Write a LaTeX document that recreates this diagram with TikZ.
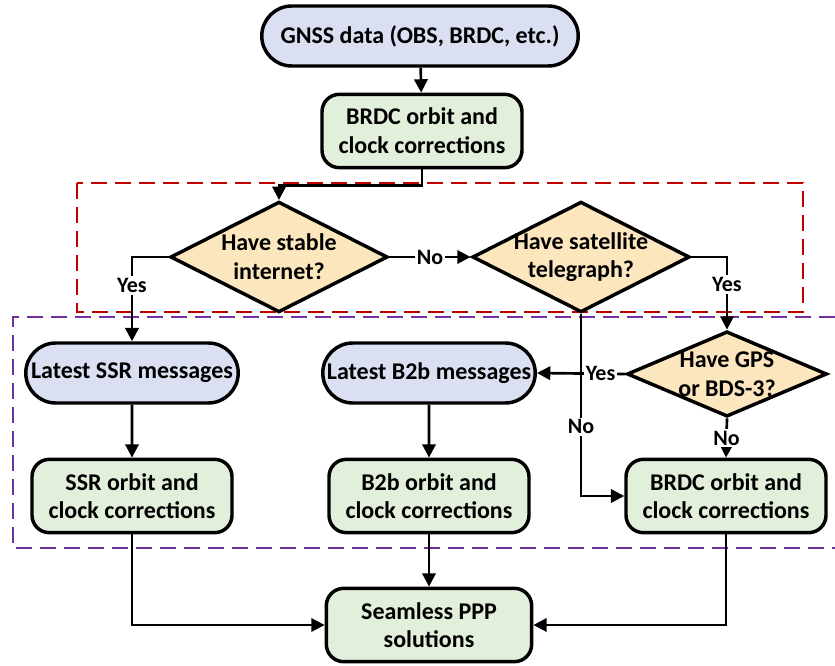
\documentclass[tikz,border=0pt]{standalone}
\usepackage{fontspec}
\setmainfont{Carlito}
\usepackage{xcolor}
\definecolor{PPPmsg}{HTML}{DAE0F2}
\definecolor{PPPcorr}{HTML}{E2EFDA}
\definecolor{PPPask}{HTML}{FCE6BE}
\definecolor{PPPred}{HTML}{C00000}
\definecolor{PPPpurple}{HTML}{7030A0}
\usepackage{tikz}
\usetikzlibrary{arrows.meta, shapes.geometric, shapes.misc, positioning}

\begin{document}
\begin{tikzpicture}[
  x=0.75pt, y=-0.75pt,
  font=\fontsize{18}{21.5}\selectfont\bfseries,
  msgnode/.style={
    rounded rectangle, draw=black, fill=PPPmsg,
    minimum height=45pt, line width=2.6pt
  },
  corrnode/.style={
    rectangle, rounded corners=13pt, draw=black, fill=PPPcorr,
    align=center, minimum width=150pt, minimum height=55pt,
    line width=2.6pt
  },
  decision/.style={
    diamond, aspect=2, draw=black, fill=PPPask, align=center,
    inner sep=-8pt, minimum width=163pt, minimum height=83pt,
    line width=2.6pt
  },
  flow/.style={-{Triangle[length=10pt,width=10pt]}, line width=2pt},
  yn/.style={fill=white, inner sep=1.5pt, font=\fontsize{16.5}{19}\selectfont\bfseries},
  zone/.style={dash pattern=on 12pt off 6pt, line width=1.6pt}
]
\useasboundingbox (0,0) rectangle (835,666);

% ── Dashed zones (drawn first, behind everything) ─────────────
\draw[zone, PPPred] (77,183) rectangle (803,312);
\draw[zone, PPPpurple] (835,317) -- (13,317) -- (13,548) -- (835,548);

% ── Input and broadcast products ──────────────────────────────
\node[msgnode, minimum width=244pt] (gnss) at (420,36) {GNSS data (OBS, BRDC, etc.)};
\node[corrnode] (brdc) at (422,131) {BRDC orbit and\\clock corrections};

% ── Decisions ─────────────────────────────────────────────────
\node[decision] (qnet) at (279,257) {Have stable\\internet?};
\node[decision] (qsat) at (581,257) {Have satellite\\telegraph?};
\node[decision, minimum width=150pt, minimum height=64pt] (qgps) at (727,374) {Have GPS\\or BDS-3?};

% ── Correction messages ───────────────────────────────────────
\node[msgnode, minimum width=166pt] (ssrmsg) at (132,373) {Latest SSR messages};
\node[msgnode, minimum width=166pt] (bbmsg)  at (429,373) {Latest B2b messages};

% ── Orbit and clock corrections ───────────────────────────────
\node[corrnode] (ssrorb)  at (132,496) {SSR orbit and\\clock corrections};
\node[corrnode] (bborb)   at (429,496) {B2b orbit and\\clock corrections};
\node[corrnode] (brdcorb) at (726,496) {BRDC orbit and\\clock corrections};

% ── Output ────────────────────────────────────────────────────
\node[corrnode, minimum width=154pt] (ppp) at (429,625) {Seamless PPP\\solutions};

% ── Flow (top part) ───────────────────────────────────────────
\draw[flow] (gnss) -- (brdc);
\draw[flow] (brdc.south) -- ++(0,16) -| (qnet.north);
\draw[flow] (qnet.west) -| node[yn, pos=0.67] {Yes} (ssrmsg.north);
\draw[flow] (qnet.east) -- node[yn] {No} (qsat.west);
\draw[flow] (qsat.east) -| node[yn, pos=0.69] {Yes} (qgps.north);

% ── Flow (satellite branch) ───────────────────────────────────
\draw[flow] (qsat.south) |- node[yn, pos=0.31] {No} (brdcorb.west);
\draw[flow] (qgps.west) -- node[yn, pos=0.28] {Yes} (bbmsg.east);
\draw[flow] (qgps.south) -- node[yn] {No} (brdcorb.north);

% ── Flow (messages to corrections to solutions) ───────────────
\draw[flow] (ssrmsg) -- (ssrorb);
\draw[flow] (bbmsg) -- (bborb);
\draw[flow] (ssrorb.south) |- (ppp.west);
\draw[flow] (bborb) -- (ppp);
\draw[flow] (brdcorb.south) |- (ppp.east);

\end{tikzpicture}
\end{document}
